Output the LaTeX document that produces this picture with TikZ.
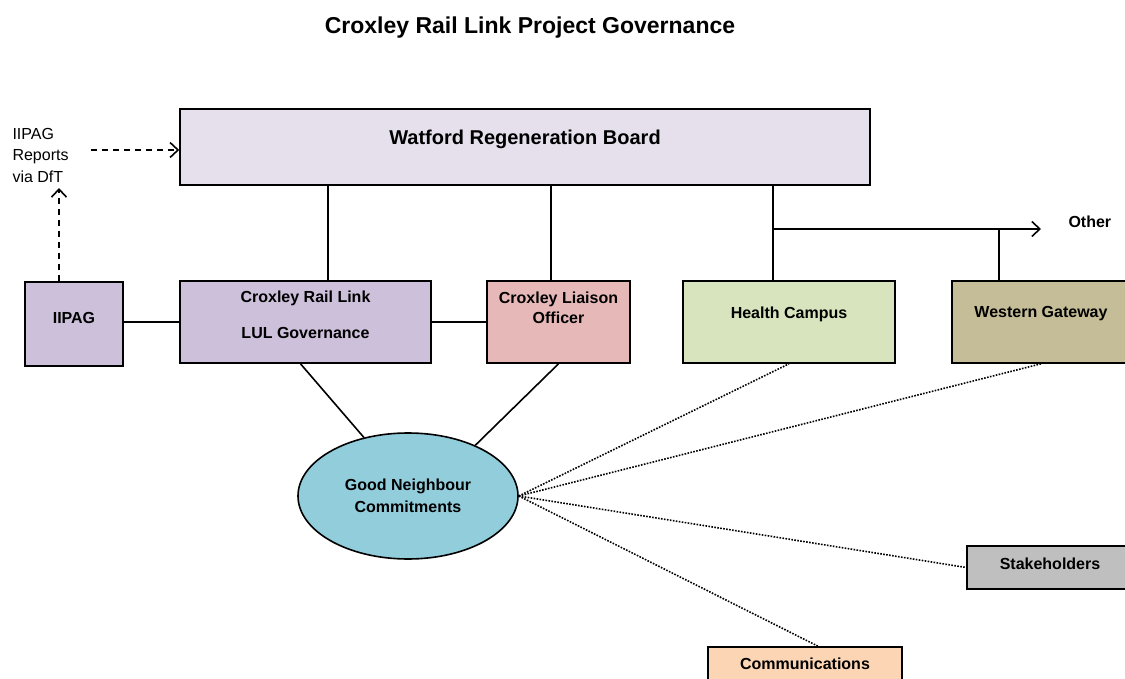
\documentclass[tikz,border=0pt]{standalone}
\usepackage{fontspec}
\setmainfont{Liberation Sans}
\usetikzlibrary{arrows.meta,
                positioning,
                shapes.geometric}
\definecolor{boardfill}{HTML}{E6E0EC}
\definecolor{lulfill}{HTML}{CCC0DA}
\definecolor{liaisonfill}{HTML}{E6B9B8}
\definecolor{healthfill}{HTML}{D7E4BD}
\definecolor{westfill}{HTML}{C4BD97}
\definecolor{gnfill}{HTML}{92CDDC}
\definecolor{stakefill}{HTML}{BFBFBF}
\definecolor{commsfill}{HTML}{FCD5B5}
\tikzset{govbox/.style={draw, line width=1.6pt, fill=#1, inner sep=0pt},
    boxtext/.style={font=\fontsize{16}{20}\selectfont\bfseries, align=center},
    link/.style={line width=1.6pt},
    softlink/.style={line width=1.6pt, dash pattern=on 1.6pt off 1.4pt},
    feed/.style={line width=1.6pt, dash pattern=on 6pt off 5pt,
        -{Straight Barb[length=8pt, width=15pt]}}}

\begin{document}
\begin{tikzpicture}[x=1pt, y=-1pt]
        \clip (0,0) rectangle (1125,679);
        \fill[white] (0,0) rectangle (1125,679);
        \node[font=\fontsize{23}{28}\selectfont\bfseries] (title) at (530,28) {Croxley Rail Link Project Governance};
        % top board
        \node[govbox=boardfill, minimum width=690, minimum height=76,
            label={[boxtext, font=\fontsize{20}{24}\selectfont\bfseries, yshift=8pt]center:Watford Regeneration Board}] (board) at (525,147) {};
        \node[anchor=west, align=left, font=\fontsize{16}{21.5}\selectfont] (notes) at (9,155) {IIPAG\\Reports\\via DfT};
        % second row
        \node[govbox=lulfill, minimum width=98, minimum height=84,
            label={[boxtext, yshift=6pt]center:IIPAG}] (iipag) at (74,324) {};
        \node[govbox=lulfill, minimum width=251, minimum height=82,
            label={[boxtext, yshift=7pt]center:Croxley Rail Link\\[16pt]LUL Governance}] (lul) at (305.5,322) {};
        \node[govbox=liaisonfill, minimum width=143, minimum height=82,
            label={[boxtext, yshift=14pt]center:Croxley Liaison\\Officer}] (liaison) at (558.5,322) {};
        \node[govbox=healthfill, minimum width=212, minimum height=82,
            label={[boxtext, yshift=8pt]center:Health Campus}] (health) at (789,322) {};
        \node[govbox=westfill, minimum width=178, minimum height=82,
            label={[boxtext, yshift=8pt]center:Western Gateway}] (western) at (1041,322) {};
        \node[font=\fontsize{16}{20}\selectfont\bfseries, anchor=west] (other) at (1065,222) {Other};
        % lower part
        \node[ellipse, draw, line width=1.6pt, fill=gnfill, minimum width=220, minimum height=126, inner sep=0pt,
            boxtext, font=\fontsize{16}{22}\selectfont\bfseries] (gn) at (408,496) {Good Neighbour\\Commitments};
        \node[govbox=stakefill, minimum width=166, minimum height=43,
            label={[boxtext, yshift=4pt]center:Stakeholders}] (stake) at (1050,567.5) {};
        \node[govbox=commsfill, minimum width=194, minimum height=43,
            label={[boxtext, yshift=5pt]center:Communications}] (comms) at (805,668.5) {};

        \coordinate (tapA) at (328,0);
        \coordinate (tapB) at (551,0);
        \coordinate (tapC) at (773,0);
        \coordinate (tapD) at (999,229);
        \coordinate (otherend) at (1041,229);
        \coordinate (reportup) at (59,188);

        \draw[feed] ([xshift=19pt, yshift=5pt]notes.east) -- ([yshift=-3pt]board.west);
        \draw[feed] (iipag.north -| reportup) -- (reportup);

        \draw[link] (board.south -| tapA) -- (lul.north -| tapA);
        \draw[link] (board.south -| tapB) -- (liaison.north -| tapB);
        \draw[link] (board.south -| tapC) -- (health.north -| tapC);
        \draw[link, -{Straight Barb[length=8pt, width=15pt]}] (tapC |- tapD) -- (otherend);
        \draw[link] (tapD) -- (western.north -| tapD);
        \draw[link] (iipag.east |- lul.west) -- (lul.west);
        \draw[link] (lul.east) -- (liaison.west);
        \draw[link] ([xshift=-5pt]lul.south) -- (gn.127);
        \draw[link] (liaison.south) -- (gn.37);

        \draw[softlink] (gn.east) -- (health.south);
        \draw[softlink] (gn.east) -- (western.south);
        \draw[softlink] (gn.east) -- (stake.west);
        \draw[softlink] (gn.east) -- ([xshift=13pt]comms.north);
\end{tikzpicture}
\end{document}
